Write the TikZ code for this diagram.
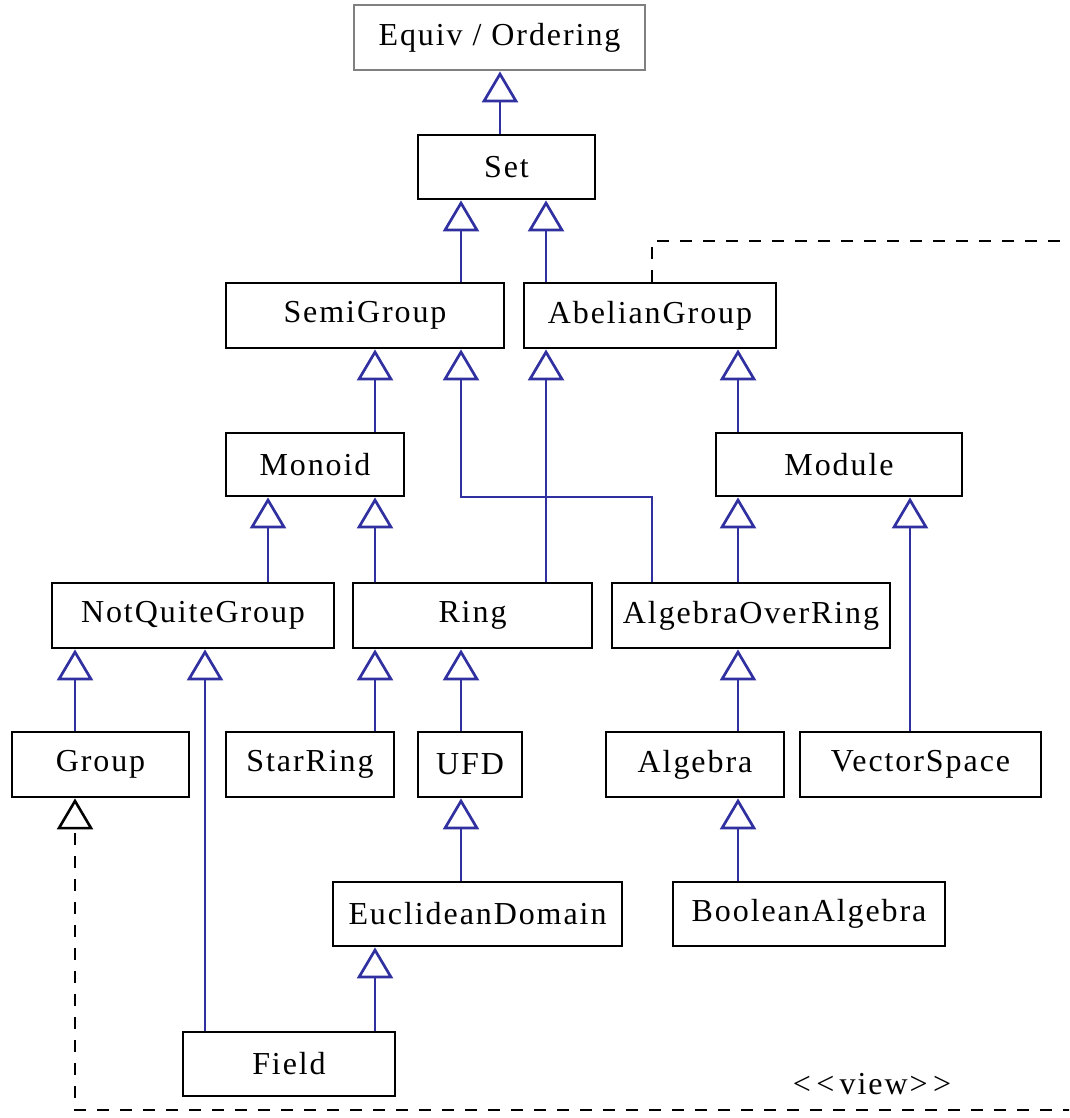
\documentclass[tikz,border=0pt]{standalone}
\usepackage{fontspec}
\setmainfont[LetterSpace=6]{Liberation Serif}
\usetikzlibrary{arrows.meta}
\definecolor{inhblue}{RGB}{48,48,160}
\definecolor{boxgray}{RGB}{128,128,128}
\tikzset{
  cls/.style={draw=black, line width=2.8pt, fill=white, inner sep=0pt,
    font=\fontsize{32}{38}\selectfont},
  inh/.style={draw=inhblue, line width=2.7pt,
    -{Triangle[open, length=31pt, width=36pt]}},
  viewline/.style={draw=black, line width=2.6pt, dash pattern=on 12pt off 11pt,
    -{Triangle[open, length=31pt, width=36pt]}},
  lbl/.style={font=\fontsize{32}{38}\selectfont, inner sep=0pt}
}
\begin{document}
\begin{tikzpicture}[x=1pt,y=-1pt]
\useasboundingbox (0,0) rectangle (1069,1118);
% column coordinates
\foreach \c in {75,205,268,375,461,500,546,652,738,910}{\coordinate (c\c) at (\c,0);}
% classes
\node[cls, draw=boxgray, minimum width=291pt, minimum height=65pt] (eq) at (499.5,37.5) {Equiv / Ordering};
\node[cls, minimum width=177pt, minimum height=64pt] (set) at (506.5,167) {Set};
\node[cls, minimum width=278pt, minimum height=65pt] (semi) at (365,315.5) {SemiGroup};
\node[cls, minimum width=252pt, minimum height=65pt] (abel) at (650,315.5) {AbelianGroup};
\node[cls, minimum width=178pt, minimum height=63pt] (monoid) at (315,464.5) {Monoid};
\node[cls, minimum width=246pt, minimum height=63pt] (module) at (839,464.5) {Module};
\node[cls, minimum width=282pt, minimum height=65pt] (nqg) at (193,615.5) {NotQuiteGroup};
\node[cls, minimum width=239pt, minimum height=65pt] (ring) at (472.5,615.5) {Ring};
\node[cls, minimum width=278pt, minimum height=65pt] (aor) at (751,615.5) {AlgebraOverRing};
\node[cls, minimum width=177pt, minimum height=65pt] (group) at (100.5,764.5) {Group};
\node[cls, minimum width=168pt, minimum height=65pt] (star) at (310,764.5) {StarRing};
\node[cls, minimum width=104pt, minimum height=65pt] (ufd) at (470,764.5) {UFD};
\node[cls, minimum width=178pt, minimum height=65pt] (alg) at (695,764.5) {Algebra};
\node[cls, minimum width=241pt, minimum height=65pt] (vs) at (920.5,764.5) {VectorSpace};
\node[cls, minimum width=289pt, minimum height=64pt] (euc) at (477.5,914) {EuclideanDomain};
\node[cls, minimum width=272pt, minimum height=64pt] (bool) at (809,914) {BooleanAlgebra};
\node[cls, minimum width=212pt, minimum height=64pt] (field) at (289,1064) {Field};
\node[lbl] (view) at (872,1084) {{<}\,{<}\,view{>}\,{>}};
% inheritance
\draw[inh] (set.north -| c500) -- (eq.south -| c500);
\draw[inh] (semi.north -| c461) -- (set.south -| c461);
\draw[inh] (abel.north -| c546) -- (set.south -| c546);
\draw[inh] (monoid.north -| c375) -- (semi.south -| c375);
\coordinate (bend) at (652,497);
\draw[inh] (aor.north -| bend) -- (bend) -| (semi.south -| c461);
\draw[inh] (ring.north -| c546) -- (abel.south -| c546);
\draw[inh] (module.north -| c738) -- (abel.south -| c738);
\draw[inh] (nqg.north -| c268) -- (monoid.south -| c268);
\draw[inh] (ring.north -| c375) -- (monoid.south -| c375);
\draw[inh] (aor.north -| c738) -- (module.south -| c738);
\draw[inh] (group.north -| c75) -- (nqg.south -| c75);
\draw[inh] (field.north -| c205) -- (nqg.south -| c205);
\draw[inh] (star.north -| c375) -- (ring.south -| c375);
\draw[inh] (ufd.north -| c461) -- (ring.south -| c461);
\draw[inh] (alg.north -| c738) -- (aor.south -| c738);
\draw[inh] (vs.north -| c910) -- (module.south -| c910);
\draw[inh] (euc.north -| c461) -- (ufd.south -| c461);
\draw[inh] (bool.north -| c738) -- (alg.south -| c738);
\draw[inh] (field.north -| c375) -- (euc.south -| c375);
% view dependency
\begin{scope}
\clip (0,0) rectangle (1069,1118);
\coordinate (tr) at (1110,241);
\coordinate (br) at (1110,1110);
\draw[viewline] (abel.north -| c652) |- (tr) -- (br) -| (group.south -| c75);
\end{scope}
\end{tikzpicture}
\end{document}
